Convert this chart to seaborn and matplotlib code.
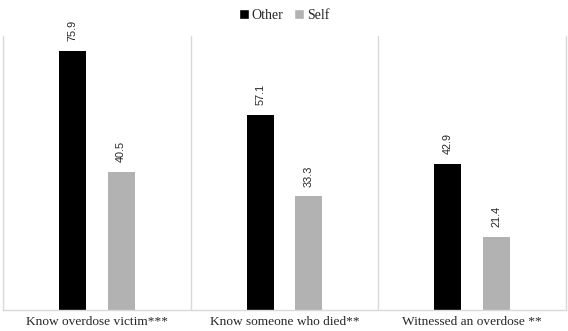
import matplotlib
matplotlib.use("Agg")
import matplotlib.pyplot as plt
import seaborn as sns
import pandas as pd
from matplotlib.patches import Patch

categories = ["Know overdose victim***", "Know someone who died**", "Witnessed an overdose **"]
other_vals = [75.9, 57.1, 42.9]
self_vals = [40.5, 33.3, 21.4]
series = ["Other", "Self"]
colors = {"Other": "#000000", "Self": "#b2b2b2"}

df = pd.DataFrame({
    "category": categories * 2,
    "value": other_vals + self_vals,
    "group": ["Other"] * 3 + ["Self"] * 3,
})

sns.set_style("white")
plt.rcParams["font.family"] = ["Liberation Serif", "DejaVu Serif"]

fig = plt.figure(figsize=(5.68, 3.31), dpi=100)
ax = fig.add_axes([3 / 568, 21 / 331, 563 / 568, 274 / 331])

sns.barplot(data=df, x="category", y="value", hue="group", order=categories,
            hue_order=series, palette=colors, width=0.52, gap=0.45,
            saturation=1, legend=False, ax=ax, linewidth=0)

for cont in ax.containers:
    ax.bar_label(cont, fmt="%.1f", rotation=90, padding=7, fontsize=7.8,
                 family=["Liberation Sans", "DejaVu Sans"])

ax.set_ylim(0, 80.3)
ax.set_xlim(-0.5, 2.5)
ax.set_yticks([])
ax.set_xlabel("")
ax.set_ylabel("")
ax.tick_params(axis="x", length=0, labelsize=9.6, pad=4)
for x in [0.5, 1.5]:
    ax.axvline(x, color="#d9d9d9", lw=1)
for s in ["left", "right", "bottom"]:
    ax.spines[s].set_color("#d9d9d9")
    ax.spines[s].set_linewidth(1)
ax.spines["top"].set_visible(False)

handles = [Patch(facecolor=colors[s], label=s) for s in series]
fig.legend(handles=handles, loc="upper center", bbox_to_anchor=(0.5, 1.01),
           ncol=2, frameon=False, handlelength=0.7, handleheight=0.7,
           handletextpad=0.2, columnspacing=0.8,
           prop={"family": ["Liberation Serif"], "size": 10})

fig.savefig("out.png", dpi=100)
